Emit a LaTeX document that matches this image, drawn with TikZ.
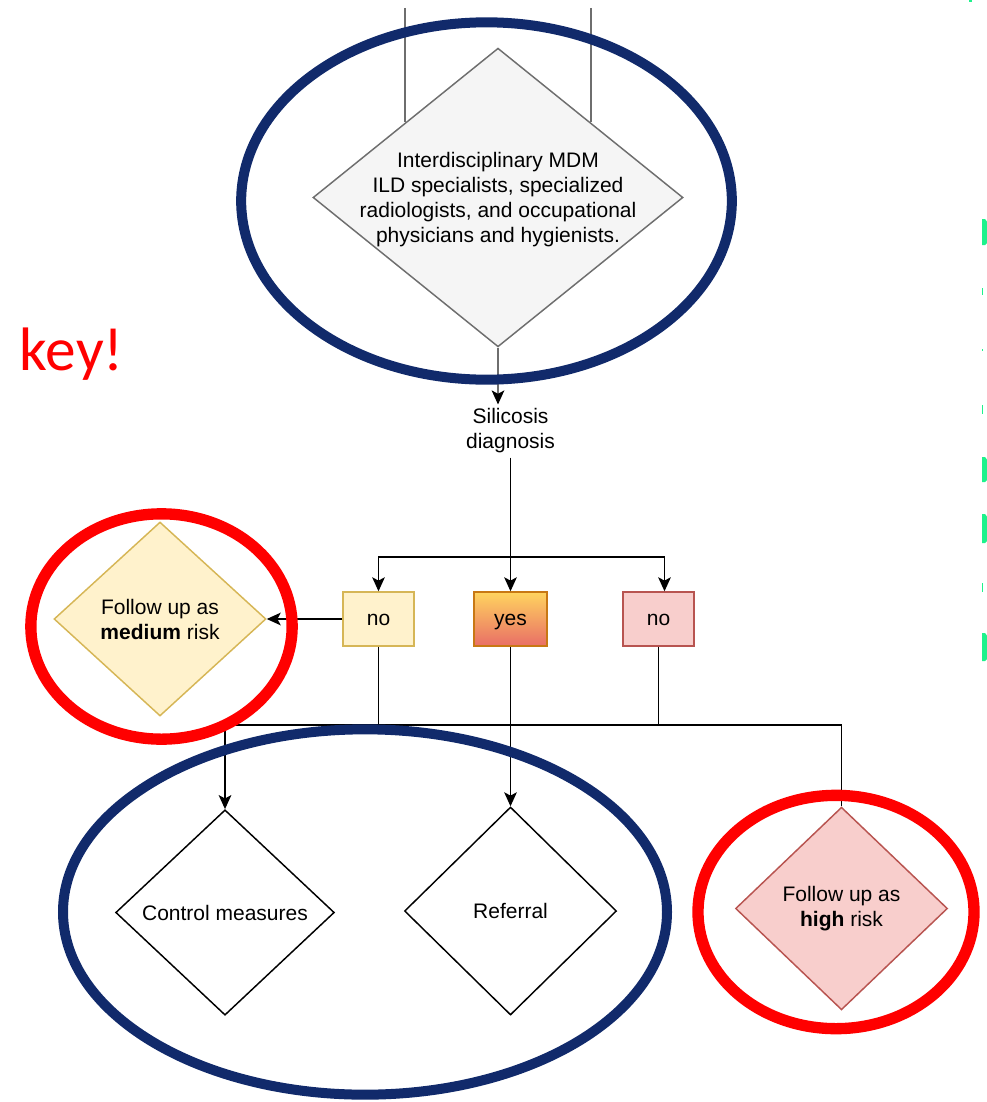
\documentclass[tikz,border=0pt]{standalone}
\usepackage{fontspec}
\setmainfont{Liberation Sans}
\newfontfamily\keyfont{Carlito}
\usepackage{xcolor}
\usepackage{tikz}
\usetikzlibrary{arrows.meta,positioning,shapes.geometric,calc}
\newcommand{\diagfont}{\fontsize{15.75}{18.75}\selectfont}
\definecolor{ringblue}{RGB}{17,42,107}
\definecolor{ringred}{RGB}{255,0,0}
\definecolor{mdmfill}{RGB}{245,245,245}
\definecolor{mdmline}{RGB}{110,110,110}
\definecolor{medfill}{RGB}{255,242,204}
\definecolor{medline}{RGB}{214,182,86}
\definecolor{highfill}{RGB}{248,206,204}
\definecolor{highline}{RGB}{184,84,80}
\definecolor{yestop}{RGB}{255,212,95}
\definecolor{yesbot}{RGB}{233,110,102}
\definecolor{yesline}{RGB}{200,120,20}
\definecolor{marker}{RGB}{30,242,140}
\tikzset{
  decision/.style={
    draw,
    shape=diamond,
    inner sep=0pt,
    align=center,
    line width=1.1pt,
    font=\diagfont
  },
  answer/.style={
    draw,
    rectangle,
    minimum width=53.25pt,
    minimum height=40.5pt,
    text height=2.1ex,
    text depth=0.3ex,
    inner sep=0pt,
    line width=1.1pt,
    font=\diagfont
  },
  plain/.style={
    align=center,
    inner sep=3pt,
    font=\diagfont
  },
  wire/.style={line width=1.1pt},
  conn/.style={-{Stealth[length=10.5pt,width=9.5pt,inset=2.5pt,black]},line width=1.1pt},
  ring/.style={line width=7.5pt}
}

\begin{document}
\begin{tikzpicture}[x=0.75pt,y=-0.75pt]
  \useasboundingbox (0,0) rectangle (987,1102);
  \clip (0,0) rectangle (987,1102);
  % top decision
  \node[decision,fill=mdmfill,draw=mdmline,minimum width=277.5pt,minimum height=224pt] (mdm) at (498,197.5) {};
  \node[plain] (mdmtext) at (498,200) {
    Interdisciplinary MDM\\
    ILD specialists, specialized\\
    radiologists, and occupational\\
    physicians and hygienists.
  };
  \coordinate (inL) at (mdm.north west |- 0,8);
  \coordinate (inR) at (mdm.north east |- 0,8);
  \node[plain] (diag) at (510.5,431) {Silicosis\\diagnosis};
  % answers
  \node[answer,fill=medfill,draw=medline] (noL) at (378.5,619) {no};
  \node[answer,top color=yestop,bottom color=yesbot,draw=yesline,minimum width=54.75pt] (yes) at (510.5,619) {yes};
  \node[answer,fill=highfill,draw=highline] (noR) at (658.5,619) {no};
  % outcomes
  \node[decision,fill=medfill,draw=medline,minimum width=159pt,minimum height=145.5pt] (med) at (160,619) {Follow up as\\\textbf{medium} risk};
  \node[decision,fill=white,draw=black,minimum width=164pt,minimum height=154pt] (ctrl) at (225,912.5) {Control measures};
  \node[decision,fill=white,draw=black,minimum width=159pt,minimum height=156pt] (ref) at (510.5,911) {Referral};
  \node[decision,fill=highfill,draw=highline,minimum width=159pt,minimum height=152pt] (high) at (841.5,908.5) {Follow up as\\\textbf{high} risk};
  \coordinate (split) at (510.5,557);
  \coordinate (busL) at (225,725);
  \coordinate (busR) at (841.5,725);
  % connectors
  \draw[wire,draw=mdmline] (inL) -- (mdm.north west);
  \draw[wire,draw=mdmline] (inR) -- (mdm.north east);
  \draw[conn,draw=mdmline] (mdm.south) -- (mdm.south |- diag.north);
  \draw[conn] (diag.south) -- (yes.north);
  \draw[conn] (split) -| (noL.north);
  \draw[conn] (split) -| ([xshift=4.5pt]noR.north);
  \draw[conn] (noL.west) -- (med.east);
  \draw[wire] (busL) -- (busR);
  \draw[wire] (noL.south) -- (noL.south |- busL);
  \draw[wire] (noR.south) -- (noR.south |- busL);
  \draw[conn] (yes.south) -- (ref.north);
  \draw[conn] (busL) -- (ctrl.north);
  \draw[wire] (busR) -- (high.north);
  % highlight rings
  \draw[ring,draw=ringblue] (486.5,201) ellipse [x radius=184pt,y radius=134pt];
  \draw[ring,draw=ringblue] (365,912) ellipse [x radius=226.5pt,y radius=137pt];
  \draw[ring,draw=ringred,line width=8.5pt] (161.5,626.5) ellipse [x radius=98pt,y radius=84.5pt];
  \draw[ring,draw=ringred,line width=8.5pt] (836,912) ellipse [x radius=103.5pt,y radius=87.5pt];
  \node[anchor=base east,inner sep=0pt,text=ringred,font=\keyfont\fontsize{46}{54}\selectfont] (keynote) at (124,370) {key!};
  % cut-off marks at the right edge
  \foreach \ya/\yb in {219/245,457/482,514/543,633/661}
    \fill[marker] (982,\ya) -- (985,\ya) -- (988,\ya+4) -- (988,\yb-3) -- (985,\yb) -- (982,\yb) -- cycle;
  \foreach \ya/\yb in {288/295,349/351,405/414,583/592}
    \fill[marker] (982,\ya) rectangle (983.2,\yb);
  \fill[marker] (969,0) rectangle (972,2);
\end{tikzpicture}
\end{document}
